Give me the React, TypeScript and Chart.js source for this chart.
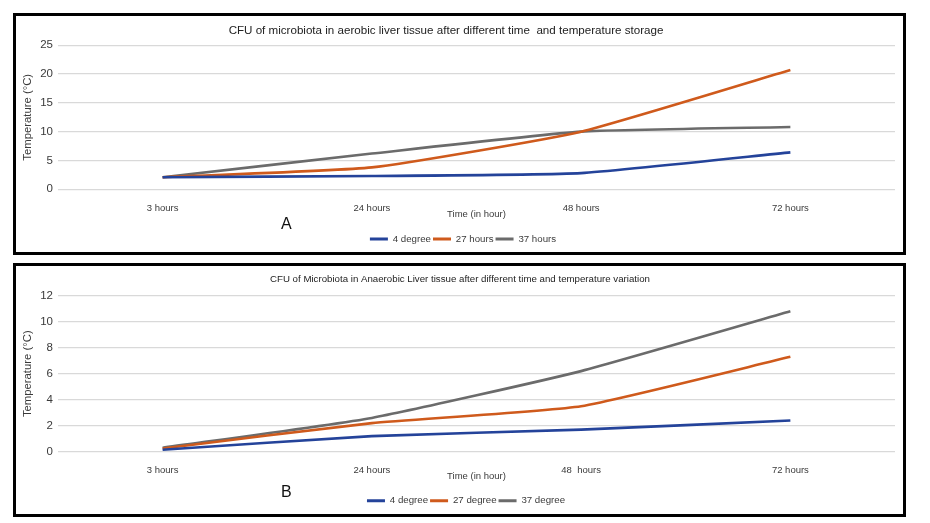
import React, { useEffect, useRef } from "react";
import { Chart, registerables } from "chart.js";

Chart.register(...registerables);

// ---------- data ----------
const categoriesA = ["3 hours", "24 hours", "48 hours", "72 hours"];
const categoriesB = ["3 hours", "24 hours", "48  hours", "72 hours"];

const seriesNamesA = ["4 degree", "27 hours", "37 hours"];
const seriesNamesB = ["4 degree", "27 degree", "37 degree"];

const aerobic4 = [2.1, 2.3, 2.8, 6.4];
const aerobic27 = [2.1, 3.8, 10.0, 20.7];
const aerobic37 = [2.1, 6.2, 10.0, 10.8];

const anaerobic4 = [0.15, 1.2, 1.7, 2.4];
const anaerobic27 = [0.25, 2.2, 3.5, 7.3];
const anaerobic37 = [0.3, 2.6, 6.2, 10.8];

const yMaxA = 25;
const yStepA = 5;
const yMaxB = 12;
const yStepB = 2;

const titleA =
  "CFU of microbiota in aerobic liver tissue after different time  and temperature storage";
const titleB =
  "CFU of Microbiota in Anaerobic Liver tissue after different time and temperature variation";
const xTitle = "Time (in hour)";
const yTitle = "Temperature (\u00B0C)";

// ---------- styles ----------
const COLORS = ["#24439a", "#cf5a1c", "#6b6b6b"];
const FONT = "'Liberation Sans', Arial, sans-serif";
const TEXT = "#3a3a3a";

const shiftPlugin = {
  id: "shift",
  afterLayout(chart: any, _args: any, opts: any) {
    const t = chart.titleBlock;
    if (t && opts.titleDx) {
      t.left += opts.titleDx;
      t.right += opts.titleDx;
    }
    const l = chart.legend;
    if (l && opts.legendDx) {
      l.left += opts.legendDx;
      l.right += opts.legendDx;
    }
  },
};

type Cfg = {
  labels: string[];
  names: string[];
  series: number[][];
  yMax: number;
  yStep: number;
  title: string;
  titleSize: number;
  titlePad: { top: number; bottom: number };
  titleDx: number;
  legendDx: number;
  xHeight: number;
  xTitlePadBottom: number;
  padBottom: number;
  width: number;
  height: number;
  left: number;
  top: number;
};

function LineChart({ cfg }: { cfg: Cfg }) {
  const ref = useRef<HTMLCanvasElement | null>(null);
  useEffect(() => {
    if (!ref.current) return;
    const chart = new Chart(ref.current, {
      type: "line",
      data: {
        labels: cfg.labels,
        datasets: cfg.series.map((s, i) => ({
          label: cfg.names[i],
          data: s,
          borderColor: COLORS[i],
          backgroundColor: COLORS[i],
          borderWidth: 2.6,
          pointRadius: 0,
          tension: 0.15,
          fill: false,
        })),
      },
      plugins: [shiftPlugin],
      options: {
        animation: false,
        responsive: true,
        maintainAspectRatio: false,
        layout: { padding: { left: 0, right: 8, top: 0, bottom: cfg.padBottom } },
        plugins: {
          shift: { titleDx: cfg.titleDx, legendDx: cfg.legendDx },
          title: {
            display: true,
            text: cfg.title,
            color: "#222",
            font: { family: FONT, size: cfg.titleSize, weight: "normal" },
            padding: cfg.titlePad,
          },
          legend: {
            display: true,
            position: "bottom",
            labels: {
              boxWidth: 18,
              boxHeight: 3,
              padding: 2,
              color: TEXT,
              font: { family: FONT, size: 9.7 },
              generateLabels: (ch: any) =>
                (Chart.defaults.plugins.legend.labels as any)
                  .generateLabels(ch)
                  .map((l: any) => ({ ...l, lineWidth: 0 })),
            },
          },
          tooltip: { enabled: false },
        },
        scales: {
          x: {
            offset: true,
            grid: { display: false, offset: true },
            border: { display: false },
            ticks: {
              color: TEXT,
              padding: 5,
              font: { family: FONT, size: 9.5 },
              maxRotation: 0,
            },
            title: {
              display: true,
              text: xTitle,
              color: TEXT,
              font: { family: FONT, size: 9.5 },
              padding: { top: 0, bottom: cfg.xTitlePadBottom },
            },
            afterFit: (s: any) => {
              s.height = cfg.xHeight;
            },
          },
          y: {
            min: 0,
            max: cfg.yMax,
            grid: { color: "#d9d9d9", lineWidth: 1.3, drawTicks: false },
            border: { display: false },
            ticks: {
              stepSize: cfg.yStep,
              color: TEXT,
              padding: 5,
              font: { family: FONT, size: 11.5 },
            },
            title: {
              display: true,
              text: yTitle,
              color: TEXT,
              font: { family: FONT, size: 11.3 },
              padding: { top: 5, bottom: 0 },
            },
            afterFit: (s: any) => {
              s.width = 42;
            },
          },
        },
      } as any,
    });
    return () => chart.destroy();
  }, [cfg]);
  return (
    <div
      style={{
        position: "absolute",
        left: cfg.left,
        top: cfg.top,
        width: cfg.width,
        height: cfg.height,
      }}
    >
      <canvas ref={ref} />
    </div>
  );
}

const cfgA: Cfg = {
  labels: categoriesA,
  names: seriesNamesA,
  series: [aerobic4, aerobic27, aerobic37],
  yMax: yMaxA,
  yStep: yStepA,
  title: titleA,
  titleSize: 11.6,
  titlePad: { top: 8.0, bottom: 7.3 },
  titleDx: -9.5,
  legendDx: 7.5,
  xHeight: 42.85,
  xTitlePadBottom: 12.15,
  padBottom: 2.15,
  width: 887,
  height: 240,
  left: 16,
  top: 16,
};

const cfgB: Cfg = {
  labels: categoriesB,
  names: seriesNamesB,
  series: [anaerobic4, anaerobic27, anaerobic37],
  yMax: yMaxB,
  yStep: yStepB,
  title: titleB,
  titleSize: 9.7,
  titlePad: { top: 7.5, bottom: 10.6 },
  titleDx: 4.5,
  legendDx: 10.5,
  xHeight: 42.15,
  xTitlePadBottom: 12.15,
  padBottom: 0.45,
  width: 887,
  height: 250,
  left: 16,
  top: 266,
};

const panel = (top: number, height: number): React.CSSProperties => ({
  position: "absolute",
  left: 13,
  top,
  width: 893,
  height,
  boxSizing: "border-box",
  border: "3.5px solid #000",
  background: "#fff",
});

const letter = (top: number): React.CSSProperties => ({
  position: "absolute",
  left: 281,
  top,
  fontFamily: FONT,
  fontSize: 16,
  lineHeight: "16px",
  color: "#111",
});

export default function App() {
  return (
    <div
      style={{
        position: "absolute",
        left: 0,
        top: 0,
        width: 930,
        height: 523,
        background: "#fff",
        overflow: "hidden",
      }}
    >
      <div style={panel(13, 242)} />
      <div style={panel(263, 254)} />
      <LineChart cfg={cfgA} />
      <LineChart cfg={cfgB} />
      <div style={letter(216)}>A</div>
      <div style={letter(484)}>B</div>
    </div>
  );
}
